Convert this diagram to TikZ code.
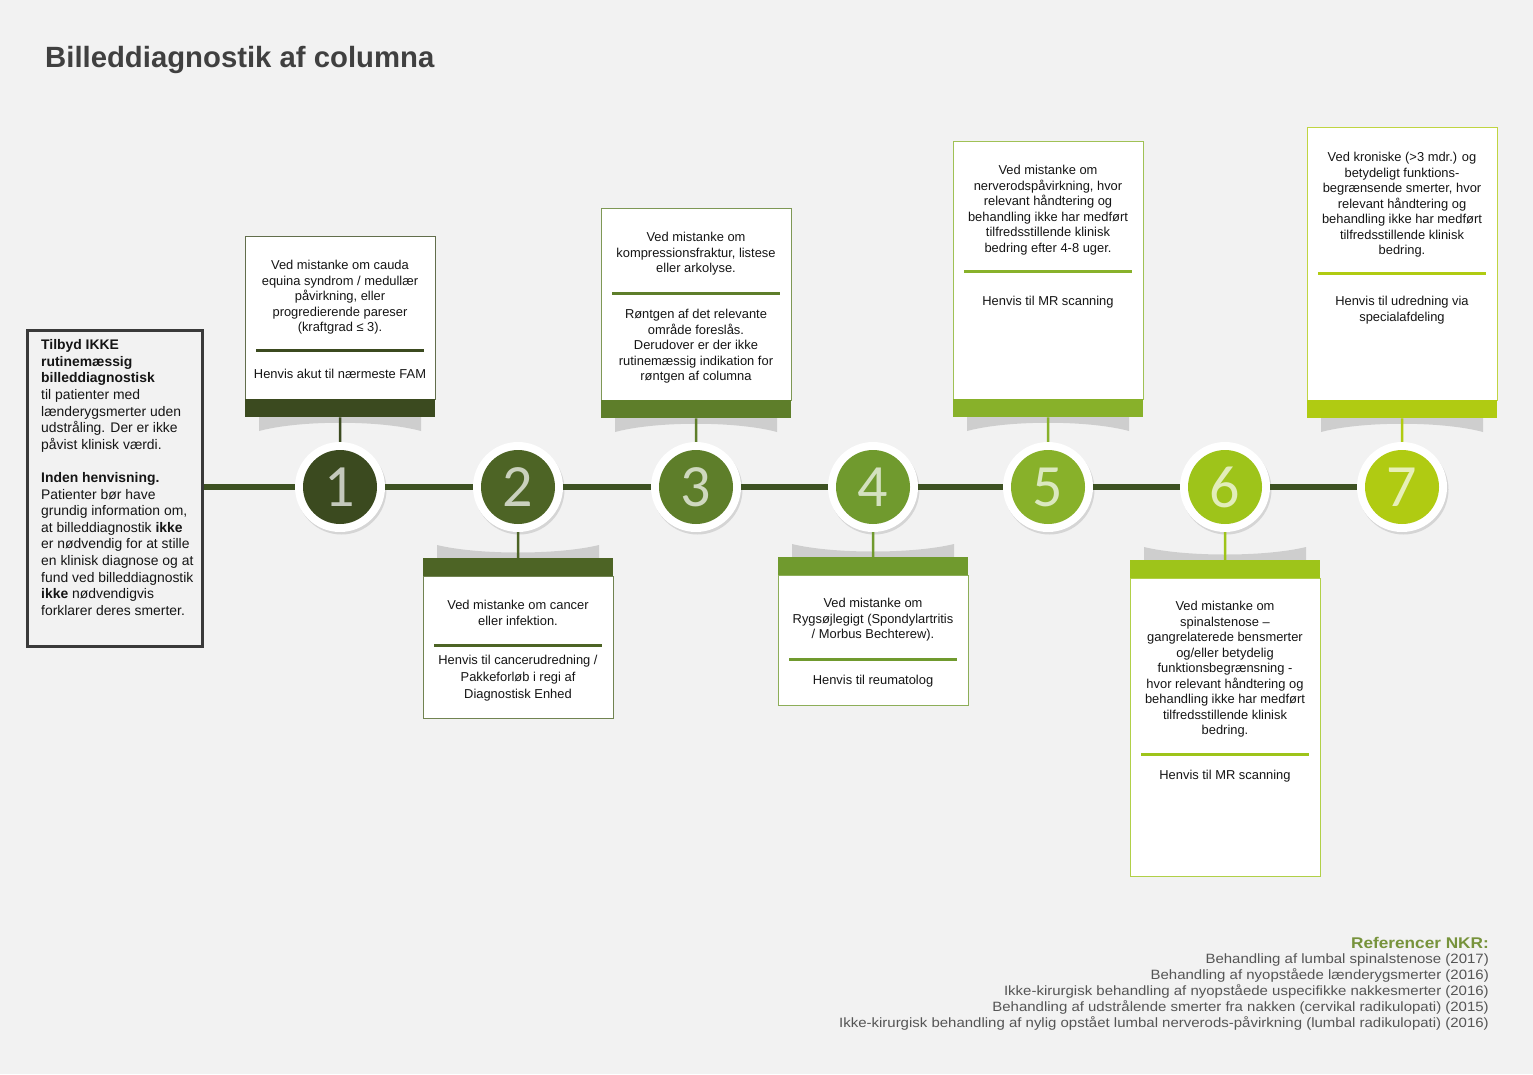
\documentclass[tikz,border=0pt]{standalone}
\usepackage{fontspec}
\setmainfont{Liberation Sans}
\newfontfamily\digitfont{Carlito}
\newfontfamily\reffont[FakeStretch=1.11]{Liberation Sans}
\usetikzlibrary{shadows}
\definecolor{bgc}{HTML}{F2F2F2}
\definecolor{colA}{HTML}{3B4A1F}
\definecolor{colB}{HTML}{4D6425}
\definecolor{colC}{HTML}{5E7E2A}
\definecolor{colD}{HTML}{709A2E}
\definecolor{colE}{HTML}{88B12A}
\definecolor{colF}{HTML}{9EC41A}
\definecolor{colG}{HTML}{B0CB12}
\definecolor{linec}{HTML}{3D5122}
\definecolor{txtc}{HTML}{151515}
\definecolor{titlec}{HTML}{404040}
\definecolor{refc}{HTML}{555555}
\definecolor{refhead}{HTML}{77933C}
\definecolor{introc}{HTML}{3A3A3A}
\tikzset{
  card/.style={draw=#1!80, fill=white, line width=0.8pt, anchor=north west, inner sep=0pt, minimum width=190pt},
  band/.style={fill=#1, anchor=north west, inner sep=0pt, minimum width=190pt, minimum height=18pt},
  txt/.style={font=\fontsize{12.9}{15.5}\selectfont, align=center, anchor=north, inner sep=0pt, text=txtc},
  sepline/.style={draw=#1, line width=3pt},
  link/.style={draw=#1, line width=2.5pt},
  ring/.style={circle, fill=white, minimum size=90pt, inner sep=0pt,
    drop shadow={shadow xshift=1.5pt, shadow yshift=-2.5pt, opacity=0.25}},
  disc/.style={circle, fill=#1, minimum size=74pt, inner sep=0pt, text=white!70!#1,
    font=\digitfont\fontsize{60}{60}\selectfont},
  curl/.style={fill=black!30, opacity=0.55},
  mainline/.style={draw=linec, line width=6pt},
}
\begin{document}
\begin{tikzpicture}[x=1pt,y=-1pt]
\fill[bgc] (0,0) rectangle (1533,1074);
\useasboundingbox (0,0) rectangle (1533,1074);

% title
\node[anchor=base west, inner sep=0pt, text=titlec, font=\bfseries\fontsize{29.3}{34}\selectfont] (title) at (45,67) {Billeddiagnostik af columna};

% intro box
\node[draw=introc, line width=3pt, fill=bgc, minimum width=175pt, minimum height=316pt, anchor=north west, inner sep=0pt] (intro) at (26,329) {};
\node[anchor=north west, align=left, inner sep=0pt, text=txtc, font=\fontsize{13.9}{16.6}\selectfont] (introtext) at (41,339.5) {%
\textbf{Tilbyd IKKE}\\\textbf{rutinemæssig}\\\textbf{billeddiagnostisk}\\til patienter med\\lænderygsmerter uden\\udstråling. Der er ikke\\påvist klinisk værdi.\\[16.6pt]%
\textbf{Inden henvisning.}\\Patienter bør have\\grundig information om,\\at billeddiagnostik \textbf{ikke}\\er nødvendig for at stille\\en klinisk diagnose og at\\fund ved billeddiagnostik\\\textbf{ikke} nødvendigvis\\forklarer deres smerter.};

% circles
\node[ring] (c1) at (340,487) {};
\node[ring] (c2) at (518,487) {};
\node[ring] (c3) at (696,487) {};
\node[ring] (c4) at (873,487) {};
\node[ring] (c5) at (1048,487) {};
\node[ring] (c6) at (1225,487) {};
\node[ring] (c7) at (1402,487) {};

% main timeline
\draw[mainline] (intro.east |- c1.west) -- (c1.west);
\draw[mainline] (c1.east) -- (c2.west);
\draw[mainline] (c2.east) -- (c3.west);
\draw[mainline] (c3.east) -- (c4.west);
\draw[mainline] (c4.east) -- (c5.west);
\draw[mainline] (c5.east) -- (c6.west);
\draw[mainline] (c6.east) -- (c7.west);

\node[disc=colA] (d1) at (c1) {1};
\node[disc=colB] (d2) at (c2) {2};
\node[disc=colC] (d3) at (c3) {3};
\node[disc=colD] (d4) at (c4) {4};
\node[disc=colE] (d5) at (c5) {5};
\node[disc=colF] (d6) at (c6) {6};
\node[disc=colG] (d7) at (c7) {7};

% ---------- card 1 (top)
\fill[curl] (259,417) -- (421,417) -- (421,431) .. controls (380,420) and (300,420) .. (259,431) -- cycle;
\node[card=colA, minimum height=163pt] (k1) at (245,236) {};
\node[band=colA] (b1) at (245,399) {};
\draw[sepline=colA] (256,350) -- (424,350);
\node[txt] (t1a) at (340,260) {Ved mistanke om cauda\\equina syndrom / medullær\\påvirkning, eller\\progredierende pareser\\(kraftgrad ≤ 3).};
\node[txt] (t1b) at (340,369) {Henvis akut til nærmeste FAM};
\draw[link=colA] (b1.south) -- (c1.north);

% ---------- card 2 (bottom)
\fill[curl] (437,558) -- (599,558) -- (599,545) .. controls (558,555) and (478,555) .. (437,545) -- cycle;
\node[band=colB] (b2) at (423,558) {};
\node[card=colB, minimum height=142pt] (k2) at (423,576) {};
\draw[sepline=colB] (434,645) -- (602,645);
\node[txt] (t2a) at (518,600) {Ved mistanke om cancer\\eller infektion.};
\node[txt, font=\fontsize{12.9}{17}\selectfont] (t2b) at (518,655) {Henvis til cancerudredning /\\Pakkeforløb i regi af\\Diagnostisk Enhed};
\draw[link=colB] (c2.south) -- (b2.north);

% ---------- card 3 (top)
\fill[curl] (615,418) -- (777,418) -- (777,432) .. controls (736,421) and (656,421) .. (615,432) -- cycle;
\node[card=colC, minimum height=192pt] (k3) at (601,208) {};
\node[band=colC] (b3) at (601,400) {};
\draw[sepline=colC] (612,293) -- (780,293);
\node[txt] (t3a) at (696,232) {Ved mistanke om\\kompressionsfraktur, listese\\eller arkolyse.};
\node[txt] (t3b) at (696,309) {Røntgen af det relevante\\område foreslås.\\Derudover er der ikke\\rutinemæssig indikation for\\røntgen af columna};
\draw[link=colC] (b3.south) -- (c3.north);

% ---------- card 4 (bottom)
\fill[curl] (792,557) -- (954,557) -- (954,544) .. controls (913,554) and (833,554) .. (792,544) -- cycle;
\node[band=colD] (b4) at (778,557) {};
\node[card=colD, minimum height=130pt] (k4) at (778,575) {};
\draw[sepline=colD] (789,659) -- (957,659);
\node[txt] (t4a) at (873,598) {Ved mistanke om\\Rygsøjlegigt (Spondylartritis\\/ Morbus Bechterew).};
\node[txt] (t4b) at (873,675) {Henvis til reumatolog};
\draw[link=colD] (c4.south) -- (b4.north);

% ---------- card 5 (top)
\fill[curl] (967,417) -- (1129,417) -- (1129,431) .. controls (1088,420) and (1008,420) .. (967,431) -- cycle;
\node[card=colE, minimum height=258pt] (k5) at (953,141) {};
\node[band=colE] (b5) at (953,399) {};
\draw[sepline=colE] (964,271) -- (1132,271);
\node[txt] (t5a) at (1048,165) {Ved mistanke om\\nerverodspåvirkning, hvor\\relevant håndtering og\\behandling ikke har medført\\tilfredsstillende klinisk\\bedring efter 4-8 uger.};
\node[txt] (t5b) at (1048,296) {Henvis til MR scanning};
\draw[link=colE] (b5.south) -- (c5.north);

% ---------- card 6 (bottom)
\fill[curl] (1144,560) -- (1306,560) -- (1306,547) .. controls (1265,557) and (1185,557) .. (1144,547) -- cycle;
\node[band=colF] (b6) at (1130,560) {};
\node[card=colF, minimum height=298pt] (k6) at (1130,578) {};
\draw[sepline=colF] (1141,754) -- (1309,754);
\node[txt] (t6a) at (1225,601) {Ved mistanke om\\spinalstenose –\\gangrelaterede bensmerter\\og/eller betydelig\\funktionsbegrænsning -\\hvor relevant håndtering og\\behandling ikke har medført\\tilfredsstillende klinisk\\bedring.};
\node[txt] (t6b) at (1225,770) {Henvis til MR scanning};
\draw[link=colF] (c6.south) -- (b6.north);

% ---------- card 7 (top)
\fill[curl] (1321,418) -- (1483,418) -- (1483,432) .. controls (1442,421) and (1362,421) .. (1321,432) -- cycle;
\node[card=colG, minimum height=273pt] (k7) at (1307,127) {};
\node[band=colG] (b7) at (1307,400) {};
\draw[sepline=colG] (1318,273) -- (1486,273);
\node[txt] (t7a) at (1402,152) {Ved kroniske (>3 mdr.) og\\betydeligt funktions-\\begrænsende smerter, hvor\\relevant håndtering og\\behandling ikke har medført\\tilfredsstillende klinisk\\bedring.};
\node[txt, font=\fontsize{12.9}{16}\selectfont] (t7b) at (1402,296) {Henvis til udredning via\\specialafdeling};
\draw[link=colG] (b7.south) -- (c7.north);

% references
\node[anchor=north east, inner sep=0pt, align=right, text=refhead, font=\reffont\bfseries\fontsize{15.5}{16}\selectfont] (refh) at (1489,937) {Referencer NKR:};
\node[anchor=north east, inner sep=0pt, align=right, text=refc, font=\reffont\fontsize{13.5}{15.8}\selectfont] (refs) at (1489,954) {Behandling af lumbal spinalstenose (2017)\\Behandling af nyopståede lænderygsmerter (2016)\\Ikke-kirurgisk behandling af nyopståede uspecifikke nakkesmerter (2016)\\Behandling af udstrålende smerter fra nakken (cervikal radikulopati) (2015)\\Ikke-kirurgisk behandling af nylig opstået lumbal nerverods-påvirkning (lumbal radikulopati) (2016)};
\end{tikzpicture}
\end{document}
